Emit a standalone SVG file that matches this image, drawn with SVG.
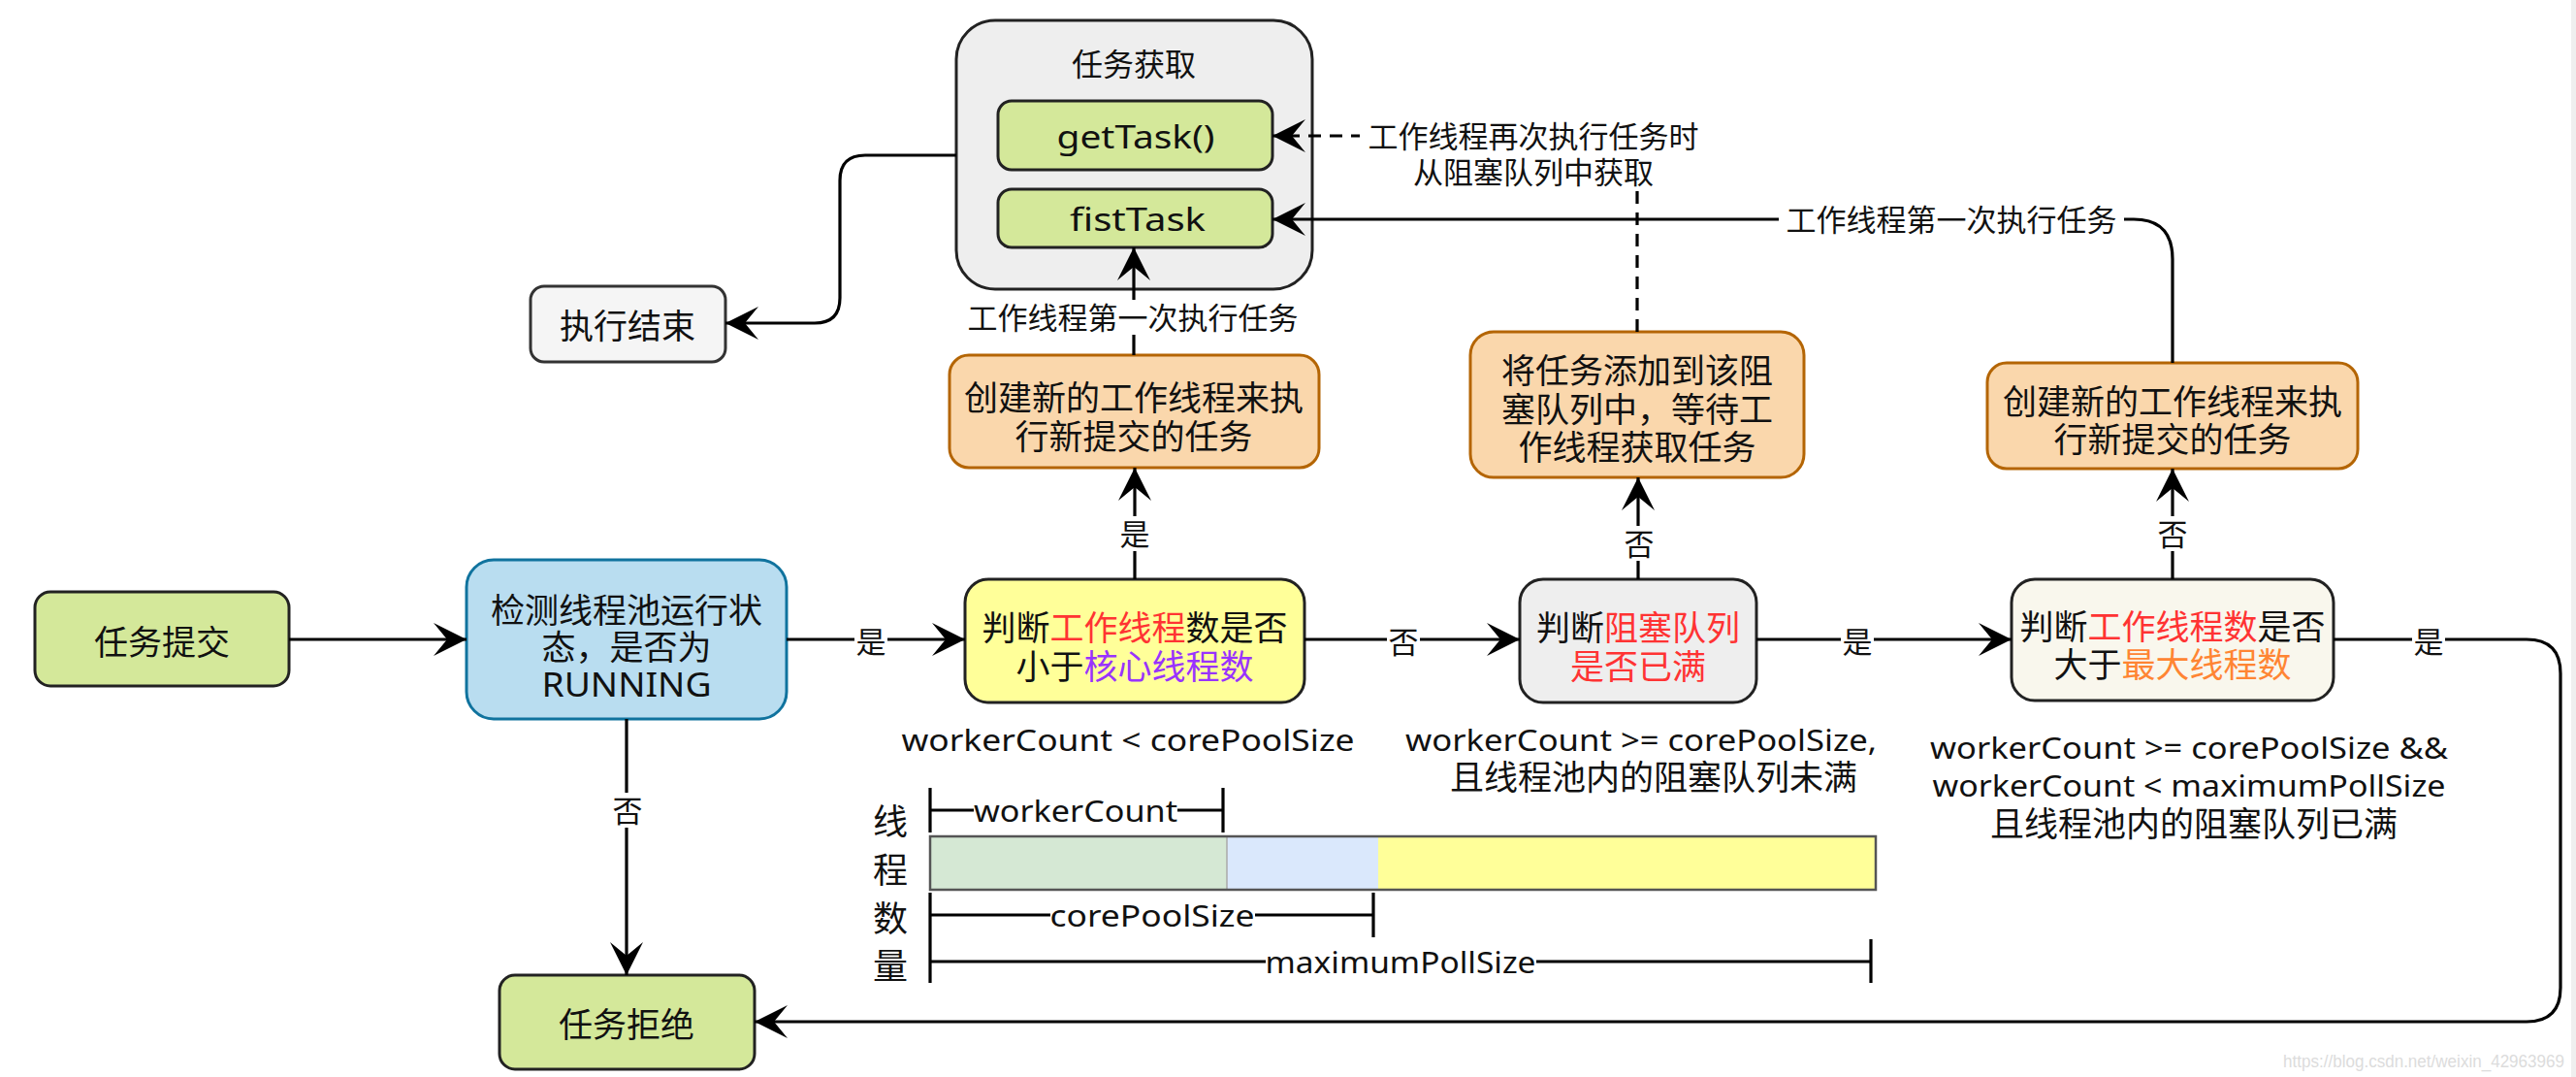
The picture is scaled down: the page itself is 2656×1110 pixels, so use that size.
<svg xmlns="http://www.w3.org/2000/svg" width="2656" height="1110" viewBox="0 0 2656 1110">
<defs>
<marker id="arr" markerUnits="userSpaceOnUse" markerWidth="36" markerHeight="36" viewBox="0 0 36 36" refX="34" refY="18" orient="auto">
<path d="M34,18 L0,1 L14,18 L0,35 Z" fill="#000"/>
</marker>
<style>
.t{font-family:'Noto Sans','Noto Sans CJK SC',sans-serif;fill:#111;text-anchor:middle;dominant-baseline:central}
.n{font-size:35px}
.e{font-size:31px}
.l{font-size:31px}
.c{fill:none;stroke:#000;stroke-width:3.2}
.d{stroke-dasharray:13 9}
.bg{fill:#fff}
.red{fill:#FF3333}
.pur{fill:#9933FF}
.org{fill:#FF8533}
.green{fill:#D4E89A;stroke:#222;stroke-width:3}
.orange{fill:#FAD7AC;stroke:#B46504;stroke-width:3}
.br{fill:none;stroke:#000;stroke-width:3.2}
</style>
</defs>
<rect width="2656" height="1110" fill="#fff"/>
<rect x="2651" y="0" width="5" height="1110" fill="#efefef"/>

<g id="node-submit">
<rect class="green" x="36" y="610" width="262" height="97" rx="16"/>
<text class="t n" x="167" y="661">任务提交</text>
</g>
<g id="node-check-running">
<rect x="481" y="577" width="330" height="164" rx="28" fill="#B9DDF0" stroke="#10739E" stroke-width="3"/>
<text class="t n"><tspan x="646" y="628">检测线程池运行状</tspan><tspan x="646" y="666">态，是否为</tspan><tspan x="646" y="704" textLength="175" lengthAdjust="spacingAndGlyphs">RUNNING</tspan></text>
</g>
<g id="node-judge-core">
<rect x="995" y="597" width="350" height="127" rx="24" fill="#FFFF99" stroke="#222" stroke-width="3"/>
<text class="t n"><tspan x="1170" y="646">判断<tspan class="red">工作线程</tspan>数是否</tspan><tspan x="1170" y="686">小于<tspan class="pur">核心线程数</tspan></tspan></text>
</g>
<g id="node-judge-queue">
<rect x="1567" y="597" width="244" height="127" rx="24" fill="#EEEEEE" stroke="#222" stroke-width="3"/>
<text class="t n"><tspan x="1689" y="646">判断<tspan class="red">阻塞队列</tspan></tspan><tspan class="red" x="1689" y="686">是否已满</tspan></text>
</g>
<g id="node-judge-max">
<rect x="2074" y="597" width="332" height="125" rx="24" fill="#F9F7ED" stroke="#222" stroke-width="3"/>
<text class="t n"><tspan x="2240" y="645">判断<tspan class="red">工作线程数</tspan>是否</tspan><tspan x="2240" y="684">大于<tspan class="org">最大线程数</tspan></tspan></text>
</g>
<g id="node-create-core">
<rect class="orange" x="979" y="366" width="381" height="116" rx="20"/>
<text class="t n"><tspan x="1169" y="409">创建新的工作线程来执</tspan><tspan x="1169" y="449">行新提交的任务</tspan></text>
</g>
<g id="node-enqueue">
<rect class="orange" x="1516" y="342" width="344" height="150" rx="24"/>
<text class="t n"><tspan x="1688" y="381">将任务添加到该阻</tspan><tspan x="1688" y="421">塞队列中，等待工</tspan><tspan x="1688" y="460">作线程获取任务</tspan></text>
</g>
<g id="node-create-max">
<rect class="orange" x="2049" y="374" width="382" height="109" rx="20"/>
<text class="t n"><tspan x="2240" y="413">创建新的工作线程来执</tspan><tspan x="2240" y="452">行新提交的任务</tspan></text>
</g>
<g id="node-fetch">
<rect x="986" y="21" width="367" height="277" rx="40" fill="#EEEEEE" stroke="#222" stroke-width="3"/>
<text class="t" x="1169" y="65" font-size="32">任务获取</text>
</g>
<g id="node-gettask">
<rect class="green" x="1029" y="104" width="283" height="71" rx="14"/>
<text class="t" x="1171" y="140" font-size="32" textLength="163" lengthAdjust="spacingAndGlyphs">getTask()</text>
</g>
<g id="node-firsttask">
<rect class="green" x="1029" y="195" width="283" height="60" rx="14"/>
<text class="t" x="1173" y="225" font-size="32" textLength="140" lengthAdjust="spacingAndGlyphs">fistTask</text>
</g>
<g id="node-end">
<rect x="547" y="295" width="201" height="78" rx="14" fill="#F5F5F5" stroke="#333" stroke-width="3"/>
<text class="t n" x="647" y="335">执行结束</text>
</g>
<g id="node-reject">
<rect class="green" x="515" y="1005" width="263" height="97" rx="16"/>
<text class="t n" x="646" y="1055">任务拒绝</text>
</g>

<g id="connectors">
<path class="c" d="M298 659 H481" marker-end="url(#arr)"/>
<path class="c" d="M811 659 H995" marker-end="url(#arr)"/>
<path class="c" d="M1345 659 H1567" marker-end="url(#arr)"/>
<path class="c" d="M1811 659 H2074" marker-end="url(#arr)"/>
<path class="c" d="M2406 659 H2605 Q2640 659 2640 694 V1018 Q2640 1053 2605 1053 H778" marker-end="url(#arr)"/>
<path class="c" d="M646 741 V1005" marker-end="url(#arr)"/>
<path class="c" d="M1170 597 V482" marker-end="url(#arr)"/>
<path class="c" d="M1169 366 V255" marker-end="url(#arr)"/>
<path class="c" d="M1689 597 V492" marker-end="url(#arr)"/>
<path class="c" d="M2240 597 V483" marker-end="url(#arr)"/>
<path class="c d" d="M1688 342 V140 H1312" marker-end="url(#arr)"/>
<path class="c" d="M2240 374 V267 Q2240 226 2200 226 H1312" marker-end="url(#arr)"/>
<path class="c" d="M986 160 H892 Q866 160 866 186 V307 Q866 333 840 333 H748" marker-end="url(#arr)"/>
</g>

<g id="edge-labels">
<rect class="bg" x="1402" y="120" width="358" height="76"/>
<text class="t e"><tspan x="1581" y="140">工作线程再次执行任务时</tspan><tspan x="1581" y="177">从阻塞队列中获取</tspan></text>
<rect class="bg" x="990" y="309" width="356" height="36"/>
<text class="t e" x="1168" y="327">工作线程第一次执行任务</text>
<rect class="bg" x="1834" y="208" width="356" height="36"/>
<text class="t e" x="2012" y="226">工作线程第一次执行任务</text>
<rect class="bg" x="881" y="642" width="34" height="36"/>
<text class="t e" x="898" y="661">是</text>
<rect class="bg" x="1430" y="642" width="34" height="36"/>
<text class="t e" x="1447" y="661">否</text>
<rect class="bg" x="1898" y="642" width="34" height="36"/>
<text class="t e" x="1915" y="661">是</text>
<rect class="bg" x="2487" y="642" width="34" height="36"/>
<text class="t e" x="2504" y="661">是</text>
<rect class="bg" x="1153" y="532" width="34" height="36"/>
<text class="t e" x="1170" y="550">是</text>
<rect class="bg" x="1672" y="542" width="34" height="36"/>
<text class="t e" x="1690" y="560">否</text>
<rect class="bg" x="2223" y="532" width="34" height="36"/>
<text class="t e" x="2240" y="550">否</text>
<rect class="bg" x="630" y="817" width="34" height="36"/>
<text class="t e" x="647" y="835">否</text>
</g>

<g id="condition-labels">
<text class="t l" x="1163" y="762" textLength="467" lengthAdjust="spacingAndGlyphs">workerCount &lt; corePoolSize</text>
<text class="t"><tspan class="l" x="1692" y="762" textLength="486" lengthAdjust="spacingAndGlyphs">workerCount &gt;= corePoolSize,</tspan><tspan class="n" x="1705" y="800">且线程池内的阻塞队列未满</tspan></text>
<text class="t"><tspan class="l" x="2257" y="770" textLength="534" lengthAdjust="spacingAndGlyphs">workerCount &gt;= corePoolSize &amp;&amp;</tspan><tspan class="l" x="2257" y="809" textLength="529" lengthAdjust="spacingAndGlyphs">workerCount &lt; maximumPollSize</tspan><tspan class="n" x="2262" y="848">且线程池内的阻塞队列已满</tspan></text>
</g>

<g id="thread-bar">
<text class="t" font-size="36"><tspan x="918" y="846">线</tspan><tspan x="918" y="896">程</tspan><tspan x="918" y="946">数</tspan><tspan x="918" y="995">量</tspan></text>
<rect x="959" y="862" width="306" height="55" fill="#D5E8D4"/>
<rect x="1265" y="862" width="156" height="55" fill="#DAE8FC"/>
<rect x="1421" y="862" width="513" height="55" fill="#FFFF99"/>
<line x1="1265" y1="862" x2="1265" y2="917" stroke="#aaa" stroke-width="1.5"/>
<rect x="959" y="862" width="975" height="55" fill="none" stroke="#555" stroke-width="2.5"/>
<path class="br" d="M959 812 V858 M1261 812 V858 M959 835 H1004 M1214 835 H1261"/>
<text class="t l" x="1109" y="835" textLength="210" lengthAdjust="spacingAndGlyphs">workerCount</text>
<path class="br" d="M959 920 V1013 M1416 920 V966 M959 943 H1083 M1294 943 H1416"/>
<text class="t l" x="1188" y="943" textLength="211" lengthAdjust="spacingAndGlyphs">corePoolSize</text>
<path class="br" d="M1929 968 V1013 M959 991 H1305 M1584 991 H1929"/>
<text class="t l" x="1444" y="991" textLength="279" lengthAdjust="spacingAndGlyphs">maximumPollSize</text>
</g>

<text x="2644" y="1100" font-family="'Liberation Sans',sans-serif" font-size="18" fill="#dcdcdc" text-anchor="end" textLength="290" lengthAdjust="spacingAndGlyphs">https://blog.csdn.net/weixin_42963969</text>
</svg>
